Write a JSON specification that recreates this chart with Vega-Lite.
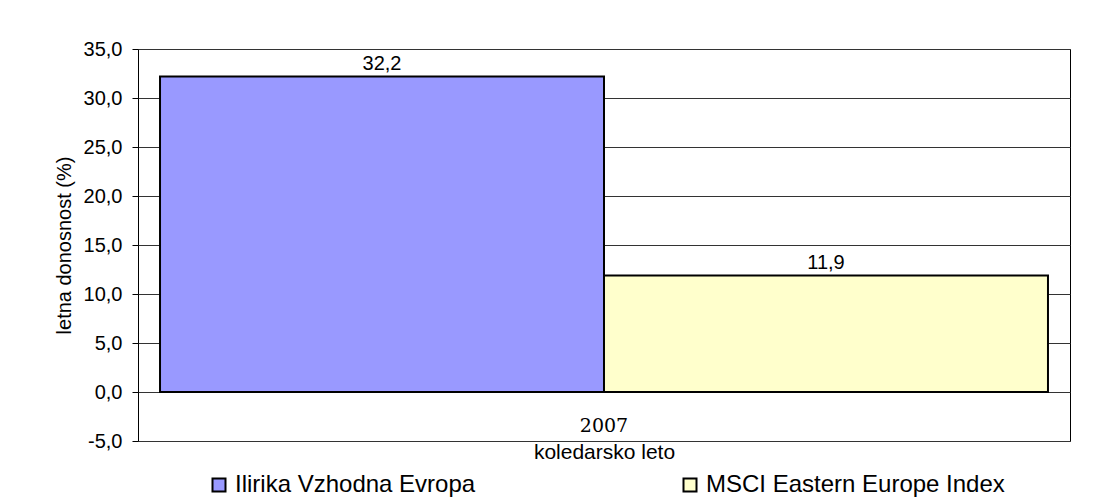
{
  "$schema": "https://vega.github.io/schema/vega-lite/v6.json",
  "width": 932,
  "height": 392,
  "autosize": {"type": "none"},
  "padding": {"left": 138, "top": 49, "right": 24, "bottom": 60},
  "background": "white",
  "config": {
    "locale": {"number": {"decimal": ",", "thousands": ".", "grouping": [3], "currency": ["", " €"], "minus": "-"}},
    "view": {"stroke": "black", "strokeWidth": 1},
    "font": "Liberation Sans"
  },
  "data": {
    "values": [
      {"year": "2007", "series": "Ilirika Vzhodna Evropa", "value": 32.2},
      {"year": "2007", "series": "MSCI Eastern Europe Index", "value": 11.9}
    ]
  },
  "encoding": {
    "x": {
      "field": "year", "type": "nominal",
      "scale": {"paddingInner": 0, "paddingOuter": 0.0248},
      "axis": {
        "title": "koledarsko leto", "titleFont": "Liberation Sans", "titleFontSize": 21, "titleFontWeight": "normal", "titleColor": "black", "titlePadding": 0,
        "labelAngle": 0, "labelFont": "DejaVu Serif", "labelFontSize": 19, "labelColor": "black",
        "labelBaseline": "middle", "labelPadding": -16,
        "ticks": false, "tickSize": 0, "domain": false
      }
    },
    "xOffset": {"field": "series", "type": "nominal", "scale": {"paddingInner": 0, "paddingOuter": 0}},
    "y": {
      "field": "value", "type": "quantitative",
      "scale": {"domain": [-5, 35], "nice": false, "zero": false},
      "axis": {
        "title": "letna donosnost (%)", "titleFontSize": 20, "titleFontWeight": "normal", "titleColor": "black", "titlePadding": 9,
        "values": [-5, 0, 5, 10, 15, 20, 25, 30, 35], "format": ".1f",
        "labelFontSize": 20, "labelColor": "black", "labelPadding": 10,
        "tickSize": 6, "tickColor": "black", "domain": false,
        "grid": true, "gridColor": "#333", "gridOpacity": 1
      }
    }
  },
  "layer": [
    {
      "mark": {"type": "bar", "stroke": "black", "strokeWidth": 2},
      "encoding": {
        "color": {
          "field": "series", "type": "nominal",
          "scale": {"domain": ["Ilirika Vzhodna Evropa", "MSCI Eastern Europe Index"], "range": ["#9999FF", "#FFFFCC"]},
          "legend": {
            "title": null, "orient": "none", "legendX": 69, "legendY": 424, "direction": "horizontal", "columns": 2,
            "symbolType": "square", "symbolSize": 169, "symbolStrokeColor": "black", "symbolStrokeWidth": 2, "symbolOpacity": 1,
            "labelFontSize": 24, "labelColor": "black", "labelOffset": 4, "labelLimit": 400, "columnPadding": 202
          }
        }
      }
    },
    {
      "mark": {"type": "text", "baseline": "alphabetic", "dy": -6, "fontSize": 20, "color": "black"},
      "encoding": {"text": {"field": "value", "type": "quantitative", "format": ".1f"}}
    }
  ]
}
